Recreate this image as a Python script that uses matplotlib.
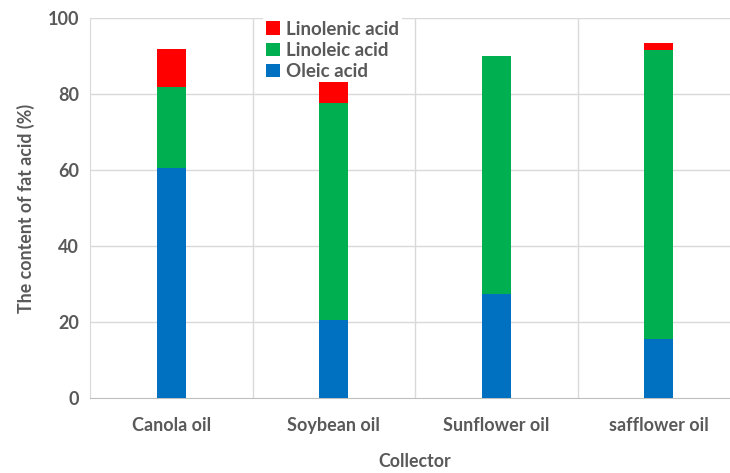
import matplotlib
matplotlib.use("Agg")
import matplotlib.pyplot as plt
import numpy as np

categories = ["Canola oil", "Soybean oil", "Sunflower oil", "safflower oil"]
oleic = [60.5, 20.4, 27.5, 15.4]
linoleic = [21.4, 57.1, 62.5, 76.3]
linolenic = [9.9, 5.6, 0.0, 1.7]
yticks = [0, 20, 40, 60, 80, 100]

plt.rcParams['font.family'] = ['Lato', 'DejaVu Sans']
txt = '#595959'
grid = '#D9D9D9'

fig = plt.figure(figsize=(7.3, 4.73), dpi=100)
ax = fig.add_axes([90/730, 75/473, 650/730, 380/473])

x = np.arange(len(categories))
w = 0.18
b1 = ax.bar(x, oleic, w, color='#0070C0', label='Oleic acid', zorder=3)
b2 = ax.bar(x, linoleic, w, bottom=oleic, color='#00B050', label='Linoleic acid', zorder=3)
bot = np.array(oleic) + np.array(linoleic)
b3 = ax.bar(x, linolenic, w, bottom=bot, color='#FF0000', label='Linolenic acid', zorder=3)

ax.set_xlim(-0.5, len(categories) - 0.5)
ax.set_ylim(0, 100)
ax.set_yticks(yticks)
ax.set_xticks(x)
ax.set_xticklabels(categories)
for yv in yticks[1:]:
    ax.axhline(yv, color=grid, lw=1, zorder=1)
for xv in x[:-1] + 0.5:
    ax.axvline(xv, color=grid, lw=1, zorder=1)

for s in ['top', 'right']:
    ax.spines[s].set_visible(False)
ax.spines['left'].set_color(grid)
ax.spines['bottom'].set_color('#BFBFBF')
ax.tick_params(length=0, labelsize=13, colors=txt, pad=8)
ax.tick_params(axis='x', pad=14)
for t in ax.get_xticklabels() + ax.get_yticklabels():
    t.set_fontweight('bold')

ax.set_ylabel('The content of fat acid (%)', fontsize=12.8, fontweight='bold', color=txt, labelpad=9)
ax.set_xlabel('Collector', fontsize=12.8, fontweight='bold', color=txt, labelpad=13)

leg = ax.legend(handles=[b3, b2, b1], loc='upper left', bbox_to_anchor=(173/650, 1.0),
                frameon=True, framealpha=1, edgecolor='none', fancybox=False,
                prop={'weight': 'bold', 'size': 13.5}, handlelength=0.75, handleheight=0.75,
                handletextpad=0.35, labelspacing=0.22, borderpad=0.15, borderaxespad=0)
for t in leg.get_texts():
    t.set_color(txt)
leg.set_zorder(2)

fig.savefig('out.png', dpi=100)
